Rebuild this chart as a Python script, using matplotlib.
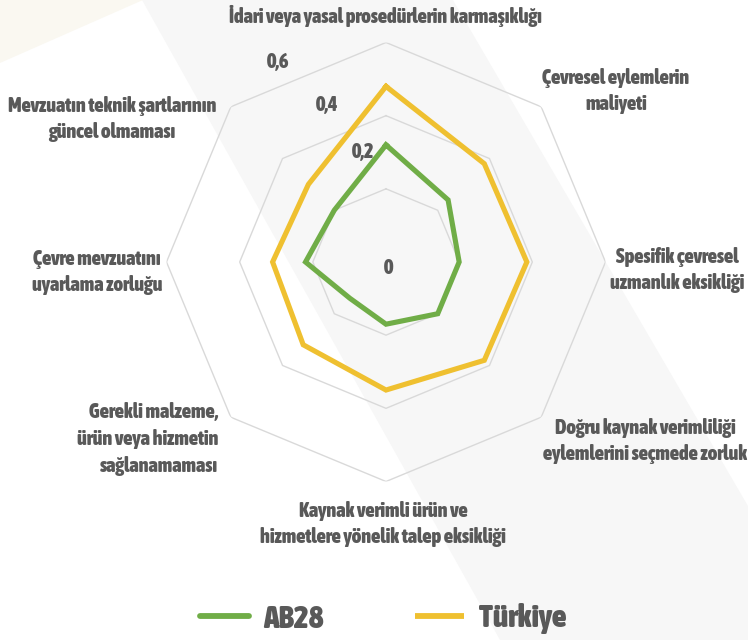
import numpy as np
import matplotlib
matplotlib.use("Agg")
import matplotlib.pyplot as plt
from matplotlib import font_manager as fm
from matplotlib.font_manager import FontProperties
from matplotlib.patches import Polygon
from matplotlib.lines import Line2D

# ---------------- data ----------------
categories = [
    "İdari veya yasal prosedürlerin karmaşıklığı",
    "Çevresel eylemlerin\nmaliyeti",
    "Spesifik çevresel\nuzmanlık eksikliği",
    "Doğru kaynak verimliliği\neylemlerini seçmede zorluk",
    "Kaynak verimli ürün ve\nhizmetlere yönelik talep eksikliği",
    "Gerekli malzeme,\nürün veya hizmetin\nsağlanamaması",
    "Çevre mevzuatını\nuyarlama zorluğu",
    "Mevzuatın teknik şartlarının\ngüncel olmaması",
]
ab28 = [0.32, 0.24, 0.20, 0.20, 0.17, 0.14, 0.22, 0.20]
turkiye = [0.48, 0.38, 0.385, 0.38, 0.35, 0.32, 0.31, 0.30]
series_names = ["AB28", "Türkiye"]
r_ticks = [0.0, 0.2, 0.4, 0.6]
r_tick_labels = ["0", "0,2", "0,4", "0,6"]

# ---------------- font choice ----------------
W, H = 748, 640
ttf = fm.fontManager.ttflist


def is_bold(f):
    w = f.weight
    return (w in ("bold", "heavy", "extra bold", "demibold", "semibold")) or (isinstance(w, int) and w >= 600)


def is_cond(f):
    s = f.stretch
    if isinstance(s, int):
        return s < 500
    return "condensed" in str(s)


chosen = None
for f in ttf:
    if f.name == "Liberation Sans Narrow" and is_bold(f):
        chosen = f.fname
        break
if chosen is None:
    for f in ttf:
        if ("Condensed" in f.name or "Narrow" in f.name) and is_bold(f):
            chosen = f.fname
            break
if chosen is None:
    for f in ttf:
        if f.name == "DejaVu Sans" and is_cond(f) and is_bold(f):
            chosen = f.fname
            break
if chosen is None:
    for f in ttf:
        if f.name == "Roboto" and is_bold(f) and f.style == "normal":
            chosen = f.fname
            break


def fp(size):
    if chosen:
        return FontProperties(fname=chosen, size=size)
    return FontProperties(family="DejaVu Sans", weight="bold", size=size)


TXT = "#595959"
GREEN = "#70AD47"
YELLOW = "#EFC030"
GRID = "#D9D9D9"

fig = plt.figure(figsize=(W / 100, H / 100), dpi=100)
fig.patch.set_facecolor("white")
renderer = fig.canvas.get_renderer()


def fit_size(text, target_px, base=12.0):
    t = fig.text(0, 0, text, fontproperties=fp(base))
    w = t.get_window_extent(renderer).width
    t.remove()
    return base * target_px / w


LAB = fit_size(categories[0], 313)
LEG = fit_size("Türkiye", 87)


def fx(x):
    return x / W


def fy(y):
    return 1 - y / H


# background decorative shapes
band = Polygon([(fx(142), fy(0)), (fx(453), fy(0)), (fx(748), fy(506)),
                (fx(748), fy(640)), (fx(500), fy(640))],
               closed=True, transform=fig.transFigure, facecolor="#F7F7F7",
               edgecolor="none", zorder=-10)
cream = Polygon([(fx(0), fy(0)), (fx(143), fy(0)), (fx(0), fy(63))],
                closed=True, transform=fig.transFigure, facecolor="#FAF8F1",
                edgecolor="none", zorder=-10)
fig.patches.extend([band, cream])

# polar axes: center (386,262) px, radius 219.5 px for 0.6
cx, cy, R = 386, 262, 219.5
ax = fig.add_axes([fx(cx - R), fy(cy + R), 2 * R / W, 2 * R / H], projection="polar")
ax.set_facecolor("none")
ax.set_zorder(1)
ax.set_theta_zero_location("N")
ax.set_theta_direction(-1)
ax.set_ylim(0, r_ticks[-1])
ax.set_xticks([])
ax.set_yticks([])
ax.grid(False)
ax.spines["polar"].set_visible(False)

n = len(categories)
angles = np.linspace(0, 2 * np.pi, n, endpoint=False)
ang_closed = np.concatenate([angles, angles[:1]])

# octagonal gridlines
for r in r_ticks[1:]:
    ax.plot(ang_closed, [r] * (n + 1), color=GRID, lw=1.0, zorder=1)

# series
for vals, col in [(ab28, GREEN), (turkiye, YELLOW)]:
    v = list(vals) + [vals[0]]
    ax.plot(ang_closed, v, color=col, lw=3.7, solid_joinstyle="miter", zorder=3)

# radial tick labels (bearing in deg, radius in data units)
tick_pos = [(155, 0.018), (-11.8, 0.307), (-20.6, 0.458), (-28.4, 0.621)]
for (b, r), lab in zip(tick_pos, r_tick_labels):
    ax.text(np.deg2rad(b), r, lab, ha="center", va="center", color=TXT,
            fontproperties=fp(LAB), zorder=2)

# category labels (pixel centers)
label_pos = [(385, 16, "center"), (616, 91, "center"), (677, 270, "center"),
             (645, 441, "center"), (383, 524, "center"), (218, 439, "right"),
             (97, 272, "center"), (112, 119, "center")]
for txt, (x, y, al) in zip(categories, label_pos):
    ha = "right" if al == "right" else "center"
    fig.text(fx(x), fy(y), txt, ha=ha, va="center", multialignment=al,
             color=TXT, fontproperties=fp(LAB), linespacing=1.43, zorder=5)

# legend
handles = [Line2D([], [], color=GREEN, lw=4.2, solid_capstyle="round"),
           Line2D([], [], color=YELLOW, lw=4.2, solid_capstyle="butt")]
leg = fig.legend(handles, series_names, loc="center", ncol=2,
                 bbox_to_anchor=(fx(383), fy(619)), frameon=False,
                 handlelength=1.55, handletextpad=0.45, columnspacing=2.9,
                 prop=fp(LEG))
for t in leg.get_texts():
    t.set_color(TXT)

fig.savefig("out.png", dpi=100, facecolor="white")
